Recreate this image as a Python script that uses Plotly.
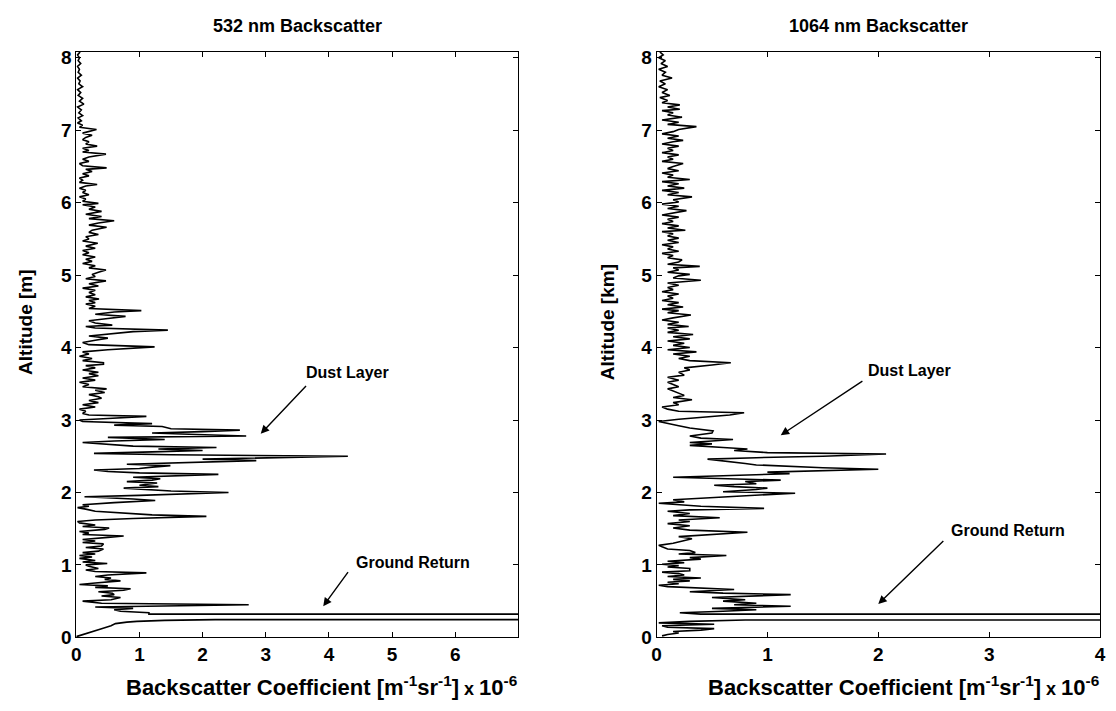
import plotly.graph_objects as go

# ---------------- data ----------------
alt_532 = [0.01, 0.04, 0.06, 0.08, 0.12, 0.16, 0.19, 0.21, 0.22, 0.235, 0.245, 0.255, 0.30, 0.32,
           0.34, 0.36, 0.38, 0.40, 0.42, 0.45, 0.47, 0.50, 0.52, 0.55, 0.57, 0.59, 0.61, 0.63, 0.65,
           0.67, 0.69, 0.71, 0.73, 0.75, 0.78, 0.80, 0.82, 0.84, 0.86, 0.89, 0.91, 0.93, 0.95, 0.98,
           1.00, 1.02, 1.04, 1.06, 1.09, 1.11, 1.13, 1.15, 1.17, 1.19, 1.22, 1.24, 1.26, 1.29, 1.31,
           1.33, 1.35, 1.38, 1.40, 1.42, 1.44, 1.46, 1.49, 1.51, 1.53, 1.55, 1.58, 1.60, 1.62, 1.64,
           1.67, 1.69, 1.72, 1.74, 1.77, 1.79, 1.81, 1.83, 1.86, 1.89, 1.91, 1.94, 1.96, 1.98, 2.00,
           2.02, 2.04, 2.06, 2.08, 2.10, 2.13, 2.15, 2.17, 2.19, 2.21, 2.23, 2.25, 2.27, 2.29, 2.31,
           2.33, 2.35, 2.37, 2.39, 2.41, 2.44, 2.46, 2.48, 2.50, 2.52, 2.54, 2.56, 2.58, 2.60, 2.62,
           2.64, 2.66, 2.69, 2.71, 2.73, 2.76, 2.78, 2.80, 2.82, 2.84, 2.86, 2.88, 2.91, 2.93, 2.95,
           2.98, 3.00, 3.02, 3.05, 3.07, 3.09, 3.12, 3.15, 3.18, 3.21, 3.24, 3.27, 3.30, 3.32, 3.35,
           3.38, 3.41, 3.43, 3.46, 3.49, 3.52, 3.55, 3.58, 3.61, 3.64, 3.66, 3.69, 3.72, 3.75, 3.77,
           3.79, 3.82, 3.85, 3.88, 3.91, 3.94, 3.97, 4.01, 4.04, 4.07, 4.10, 4.13, 4.16, 4.19, 4.22,
           4.24, 4.27, 4.29, 4.31, 4.34, 4.37, 4.40, 4.43, 4.46, 4.49, 4.51, 4.54, 4.57, 4.60, 4.62,
           4.65, 4.67, 4.70, 4.73, 4.76, 4.79, 4.82, 4.85, 4.88, 4.92, 4.95, 4.98, 5.01, 5.04, 5.07,
           5.10, 5.13, 5.16, 5.19, 5.22, 5.25, 5.28, 5.31, 5.34, 5.37, 5.40, 5.44, 5.47, 5.50, 5.53,
           5.56, 5.59, 5.62, 5.66, 5.69, 5.72, 5.75, 5.78, 5.81, 5.84, 5.88, 5.91, 5.94, 5.97, 5.99,
           6.02, 6.05, 6.08, 6.11, 6.14, 6.17, 6.20, 6.23, 6.25, 6.28, 6.31, 6.34, 6.37, 6.40, 6.43,
           6.46, 6.48, 6.51, 6.54, 6.57, 6.60, 6.63, 6.67, 6.70, 6.72, 6.75, 6.78, 6.81, 6.84, 6.87,
           6.90, 6.93, 6.96, 6.98, 7.01, 7.04, 7.07, 7.10, 7.13, 7.17, 7.20, 7.24, 7.28, 7.32, 7.36,
           7.40, 7.44, 7.48, 7.52, 7.56, 7.60, 7.64, 7.68, 7.72, 7.76, 7.80, 7.84, 7.88, 7.92, 7.96,
           8.00, 8.04, 8.08]
beta_532 = [0.0, 0.1, 0.2, 0.25, 0.4, 0.55, 0.62, 0.8, 0.96, 1.4, 2.2, 1000, 1000, 1.15,
            1.15, 0.7, 0.6, 0.9, 0.3, 2.73, 0.4, 0.1, 0.55, 0.7, 0.4, 0.6, 0.57, 0.35, 0.75,
            0.86, 0.3, 0.5, 0.05, 0.3, 0.7, 0.45, 0.55, 0.3, 0.5, 1.11, 0.3, 0.15, 0.35, 0.2,
            0.15, 0.49, 0.1, 0.3, 0.05, 0.25, 0.05, 0.3, 0.1, 0.35, 0.43, 0.15, 0.4, 0.43, 0.1,
            0.3, 0.1, 0.5, 0.75, 0.1, 0.2, 0.05, 0.45, 0.52, 0.1, 0.3, 0.05, 0.02, 0.3, 0.9,
            2.06, 1.2, 0.6, 0.3, 0.15, 0.02, 0.2, 0.1, 0.6, 1.25, 0.9, 0.13, 1.0, 1.6, 2.41,
            1.5, 1.0, 0.75, 1.3, 1.0, 1.28, 0.8, 1.2, 1.33, 0.9, 1.6, 2.25, 1.0, 0.5, 0.28,
            1.0, 1.2, 1.49, 0.8, 1.6, 2.85, 2.0, 3.0, 4.3, 1.5, 0.28, 1.2, 2.0, 1.3, 2.22,
            0.9, 0.5, 0.1, 0.6, 1.4, 0.5, 2.69, 1.9, 1.2, 2.0, 2.59, 1.5, 1.36, 0.6, 1.2,
            0.1, 0.05, 0.5, 1.11, 0.2, 0.1, 0.15, 0.05, 0.3, 0.1, 0.35, 0.2, 0.4, 0.35, 0.2,
            0.45, 0.3, 0.48, 0.1, 0.2, 0.05, 0.3, 0.1, 0.35, 0.2, 0.35, 0.1, 0.3, 0.15, 0.43,
            0.43, 0.1, 0.25, 0.05, 0.2, 0.1, 0.5, 1.24, 0.2, 0.1, 0.3, 0.5, 0.2, 0.6, 0.9,
            1.45, 0.3, 0.15, 0.57, 0.3, 0.2, 0.5, 0.78, 0.3, 0.6, 1.03, 0.2, 0.3, 0.15, 0.3,
            0.2, 0.36, 0.15, 0.3, 0.2, 0.3, 0.1, 0.35, 0.2, 0.47, 0.15, 0.3, 0.25, 0.35, 0.47,
            0.2, 0.3, 0.1, 0.25, 0.15, 0.3, 0.1, 0.2, 0.1, 0.3, 0.15, 0.34, 0.1, 0.2, 0.15,
            0.35, 0.2, 0.25, 0.48, 0.2, 0.35, 0.6, 0.2, 0.4, 0.15, 0.4, 0.2, 0.3, 0.1, 0.35,
            0.1, 0.15, 0.05, 0.2, 0.1, 0.15, 0.05, 0.15, 0.33, 0.05, 0.1, 0.05, 0.2, 0.1, 0.25,
            0.15, 0.48, 0.1, 0.05, 0.2, 0.1, 0.2, 0.47, 0.1, 0.2, 0.1, 0.33, 0.15, 0.2, 0.1,
            0.15, 0.25, 0.1, 0.2, 0.32, 0.05, 0.1, 0.02, 0.08, 0.03, 0.1, 0.04, 0.08, 0.02, 0.12,
            0.05, 0.1, 0.03, 0.07, 0.02, 0.1, 0.04, 0.06, 0.02, 0.08, 0.03, 0.05, 0.02, 0.07, 0.03,
            0.05, 0.02, 0.06]

alt_1064 = [0.02, 0.04, 0.06, 0.08, 0.10, 0.12, 0.14, 0.16, 0.18, 0.20, 0.22, 0.24, 0.255, 0.30,
            0.32, 0.34, 0.36, 0.38, 0.40, 0.43, 0.45, 0.47, 0.50, 0.52, 0.55, 0.57, 0.59, 0.61,
            0.63, 0.66, 0.68, 0.70, 0.72, 0.74, 0.76, 0.78, 0.80, 0.82, 0.84, 0.86, 0.88, 0.90,
            0.92, 0.95, 0.97, 0.99, 1.01, 1.03, 1.05, 1.08, 1.10, 1.13, 1.15, 1.17, 1.20, 1.22,
            1.25, 1.27, 1.30, 1.33, 1.36, 1.39, 1.42, 1.45, 1.48, 1.51, 1.54, 1.57, 1.60, 1.62,
            1.65, 1.68, 1.71, 1.74, 1.76, 1.78, 1.81, 1.83, 1.85, 1.87, 1.90, 1.92, 1.95, 1.97,
            1.99, 2.01, 2.04, 2.06, 2.08, 2.10, 2.12, 2.15, 2.17, 2.19, 2.21, 2.23, 2.26, 2.28,
            2.30, 2.32, 2.34, 2.36, 2.38, 2.40, 2.43, 2.46, 2.48, 2.50, 2.53, 2.55, 2.58, 2.60,
            2.62, 2.65, 2.67, 2.69, 2.71, 2.73, 2.75, 2.78, 2.80, 2.82, 2.85, 2.87, 2.89, 2.92,
            2.95, 2.98, 3.01, 3.04, 3.07, 3.10, 3.12, 3.15, 3.18, 3.21, 3.24, 3.28, 3.31, 3.34,
            3.37, 3.40, 3.43, 3.46, 3.49, 3.52, 3.55, 3.59, 3.62, 3.66, 3.69, 3.72, 3.76, 3.79,
            3.82, 3.85, 3.88, 3.91, 3.94, 3.97, 4.00, 4.03, 4.06, 4.09, 4.12, 4.15, 4.18, 4.21,
            4.24, 4.27, 4.29, 4.32, 4.35, 4.38, 4.41, 4.45, 4.48, 4.51, 4.53, 4.56, 4.59, 4.62,
            4.65, 4.68, 4.71, 4.74, 4.77, 4.80, 4.83, 4.86, 4.89, 4.93, 4.96, 4.99, 5.01, 5.04,
            5.07, 5.10, 5.12, 5.15, 5.18, 5.21, 5.24, 5.27, 5.30, 5.33, 5.36, 5.39, 5.42, 5.45,
            5.48, 5.51, 5.54, 5.57, 5.60, 5.62, 5.65, 5.68, 5.71, 5.74, 5.77, 5.80, 5.83, 5.86,
            5.89, 5.92, 5.95, 5.98, 6.01, 6.04, 6.08, 6.11, 6.14, 6.17, 6.20, 6.23, 6.26, 6.29,
            6.32, 6.35, 6.38, 6.41, 6.44, 6.47, 6.50, 6.54, 6.57, 6.60, 6.63, 6.66, 6.69, 6.72,
            6.75, 6.78, 6.81, 6.84, 6.86, 6.89, 6.92, 6.95, 6.98, 7.01, 7.05, 7.08, 7.11, 7.14,
            7.18, 7.21, 7.24, 7.27, 7.29, 7.32, 7.35, 7.38, 7.41, 7.45, 7.48, 7.52, 7.56, 7.60,
            7.64, 7.68, 7.72, 7.76, 7.80, 7.84, 7.88, 7.92, 7.96, 8.00, 8.04, 8.08]
beta_1064 = [0.05, 0.1, 0.2, 0.15, 0.4, 0.52, 0.1, 0.05, 0.52, 0.02, 0.3, 0.8, 1000, 1000,
             0.4, 0.21, 0.6, 0.9, 0.5, 1.21, 0.7, 0.9, 0.6, 0.8, 0.5, 0.9, 1.21, 0.6,
             0.3, 0.7, 0.4, 0.1, 0.02, 0.2, 0.1, 0.3, 0.15, 0.4, 0.1, 0.25, 0.2, 0.05,
             0.3, 0.3, 0.1, 0.2, 0.05, 0.25, 0.1, 0.4, 0.3, 0.63, 0.2, 0.35, 0.3, 0.1,
             0.05, 0.02, 0.15, 0.25, 0.32, 0.2, 0.5, 0.82, 0.3, 0.15, 0.3, 0.1, 0.3, 0.2,
             0.57, 0.15, 0.3, 0.1, 0.3, 0.97, 0.4, 0.2, 0.02, 0.25, 0.15, 0.4, 0.7, 1.0,
             1.25, 0.6, 0.9, 1.0, 0.7, 0.52, 0.9, 0.8, 1.12, 0.5, 0.15, 0.6, 1.2, 1.0,
             1.4, 2.0, 1.5, 1.1, 0.9, 0.8, 0.6, 0.46, 0.9, 1.5, 2.07, 1.0, 0.7, 0.82,
             0.6, 0.3, 0.5, 0.3, 0.5, 0.69, 0.4, 0.3, 0.4, 0.5, 0.51, 0.4, 0.3, 0.2,
             0.1, 0.02, 0.2, 0.4, 0.66, 0.79, 0.2, 0.1, 0.05, 0.2, 0.15, 0.32, 0.15, 0.25,
             0.2, 0.15, 0.1, 0.2, 0.15, 0.1, 0.2, 0.1, 0.25, 0.2, 0.3, 0.25, 0.5, 0.67,
             0.3, 0.2, 0.3, 0.15, 0.36, 0.1, 0.3, 0.15, 0.25, 0.1, 0.3, 0.15, 0.33, 0.1,
             0.2, 0.1, 0.29, 0.1, 0.2, 0.05, 0.15, 0.31, 0.1, 0.2, 0.05, 0.24, 0.1, 0.2,
             0.05, 0.15, 0.1, 0.2, 0.05, 0.15, 0.1, 0.2, 0.1, 0.40, 0.15, 0.2, 0.3, 0.1,
             0.2, 0.15, 0.39, 0.1, 0.2, 0.23, 0.1, 0.15, 0.05, 0.2, 0.1, 0.15, 0.05, 0.2,
             0.1, 0.2, 0.1, 0.15, 0.05, 0.26, 0.1, 0.2, 0.05, 0.15, 0.1, 0.2, 0.05, 0.15,
             0.27, 0.1, 0.2, 0.05, 0.2, 0.15, 0.32, 0.1, 0.2, 0.05, 0.25, 0.1, 0.2, 0.05,
             0.3, 0.1, 0.15, 0.05, 0.2, 0.1, 0.15, 0.24, 0.05, 0.15, 0.1, 0.2, 0.05, 0.15,
             0.1, 0.2, 0.05, 0.15, 0.24, 0.1, 0.2, 0.05, 0.15, 0.2, 0.36, 0.1, 0.2, 0.05,
             0.23, 0.1, 0.15, 0.05, 0.21, 0.1, 0.21, 0.05, 0.1, 0.03, 0.12, 0.05, 0.1, 0.02,
             0.08, 0.03, 0.14, 0.05, 0.08, 0.02, 0.1, 0.04, 0.08, 0.02, 0.06, 0.03]

panel_titles = ["532 nm Backscatter", "1064 nm Backscatter"]
y_titles = ["Altitude [m]", "Altitude [km]"]
x_title = "Backscatter Coefficient [m<sup>-1</sup>sr<sup>-1</sup>]<span style='font-size:18px'> x </span>10<sup>-6</sup>"
x_ranges = [[0, 7], [0, 4]]
x_ticks = [[0, 1, 2, 3, 4, 5, 6], [0, 1, 2, 3, 4]]
y_range = [0, 8.08]
y_ticks = [0, 1, 2, 3, 4, 5, 6, 7, 8]

# annotation anchors (data coords): tip x, tip y, tail x, tail y, text x, text y
dust_532 = [2.92, 2.81, 3.66, 3.49, 4.3, 3.66]
ground_532 = [3.91, 0.43, 4.32, 0.92, 5.33, 1.04]
dust_1064 = [1.12, 2.79, 1.87, 3.55, 2.28, 3.69]
ground_1064 = [2.0, 0.46, 2.6, 1.35, 3.17, 1.47]

# ---------------- figure ----------------
W, H = 1116, 711
FONT = "Liberation Sans, Arial, sans-serif"

fig = go.Figure()
fig.add_trace(go.Scatter(x=beta_532, y=alt_532, mode="lines",
                         line=dict(color="black", width=1.6), xaxis="x", yaxis="y",
                         showlegend=False, hoverinfo="skip"))
fig.add_trace(go.Scatter(x=beta_1064, y=alt_1064, mode="lines",
                         line=dict(color="black", width=1.6), xaxis="x2", yaxis="y2",
                         showlegend=False, hoverinfo="skip"))

def px(x):
    return x / W

def py(y):
    return 1 - y / H

left_dom = [px(72), px(518.5)]
right_dom = [px(658), px(1106)]
ydom = [py(647), py(49)]

axis_common = dict(showline=True, linecolor="black", linewidth=1, mirror="ticks",
                   ticks="inside", ticklen=5, tickcolor="black", showgrid=False,
                   zeroline=False,
                   tickfont=dict(family=FONT, size=19, color="black", weight="bold"))

fig.update_layout(
    width=W, height=H,
    margin=dict(l=0, r=0, t=0, b=0),
    paper_bgcolor="white", plot_bgcolor="white",
    xaxis=dict(domain=left_dom, range=x_ranges[0], tickvals=x_ticks[0], anchor="y", **axis_common),
    yaxis=dict(domain=ydom, range=y_range, tickvals=y_ticks, anchor="x", **axis_common),
    xaxis2=dict(domain=right_dom, range=x_ranges[1], tickvals=x_ticks[1], anchor="y2", **axis_common),
    yaxis2=dict(domain=ydom, range=y_range, tickvals=y_ticks, anchor="x2", **axis_common),
)

bold = dict(family=FONT, color="black", weight="bold")
ann = []
# panel titles
for dom, t in zip([left_dom, right_dom], panel_titles):
    ann.append(dict(text=t, x=(dom[0] + dom[1]) / 2, y=py(22), xref="paper", yref="paper",
                    showarrow=False, xanchor="center", yanchor="middle",
                    font=dict(size=18, **bold)))
# x titles (right-aligned to plot edge)
for dom in [left_dom, right_dom]:
    ann.append(dict(text=x_title, x=dom[1] + px(1), y=py(697), xref="paper", yref="paper",
                    showarrow=False, xanchor="right", yanchor="middle",
                    font=dict(size=22, **bold)))
# y titles
for xp, t in zip([20, 608], y_titles):
    ann.append(dict(text=t, x=px(xp), y=py(325), xref="paper", yref="paper",
                    showarrow=False, xanchor="center", yanchor="middle", textangle=-90,
                    font=dict(size=19, **bold)))

def arrow(spec, label, xr, yr):
    tx, ty, ax, ay, lx, ly = spec
    ann.append(dict(x=tx, y=ty, ax=ax, ay=ay, xref=xr, yref=yr, axref=xr, ayref=yr,
                    text="", showarrow=True, arrowhead=2, arrowsize=1.2, arrowwidth=1.4,
                    arrowcolor="black"))
    ann.append(dict(x=lx, y=ly, xref=xr, yref=yr, text=label, showarrow=False,
                    xanchor="center", yanchor="middle", font=dict(size=16, **bold)))

arrow(dust_532, "Dust Layer", "x", "y")
arrow(ground_532, "Ground Return", "x", "y")
arrow(dust_1064, "Dust Layer", "x2", "y2")
arrow(ground_1064, "Ground Return", "x2", "y2")

fig.update_layout(annotations=ann)
fig.write_html("out.html")
